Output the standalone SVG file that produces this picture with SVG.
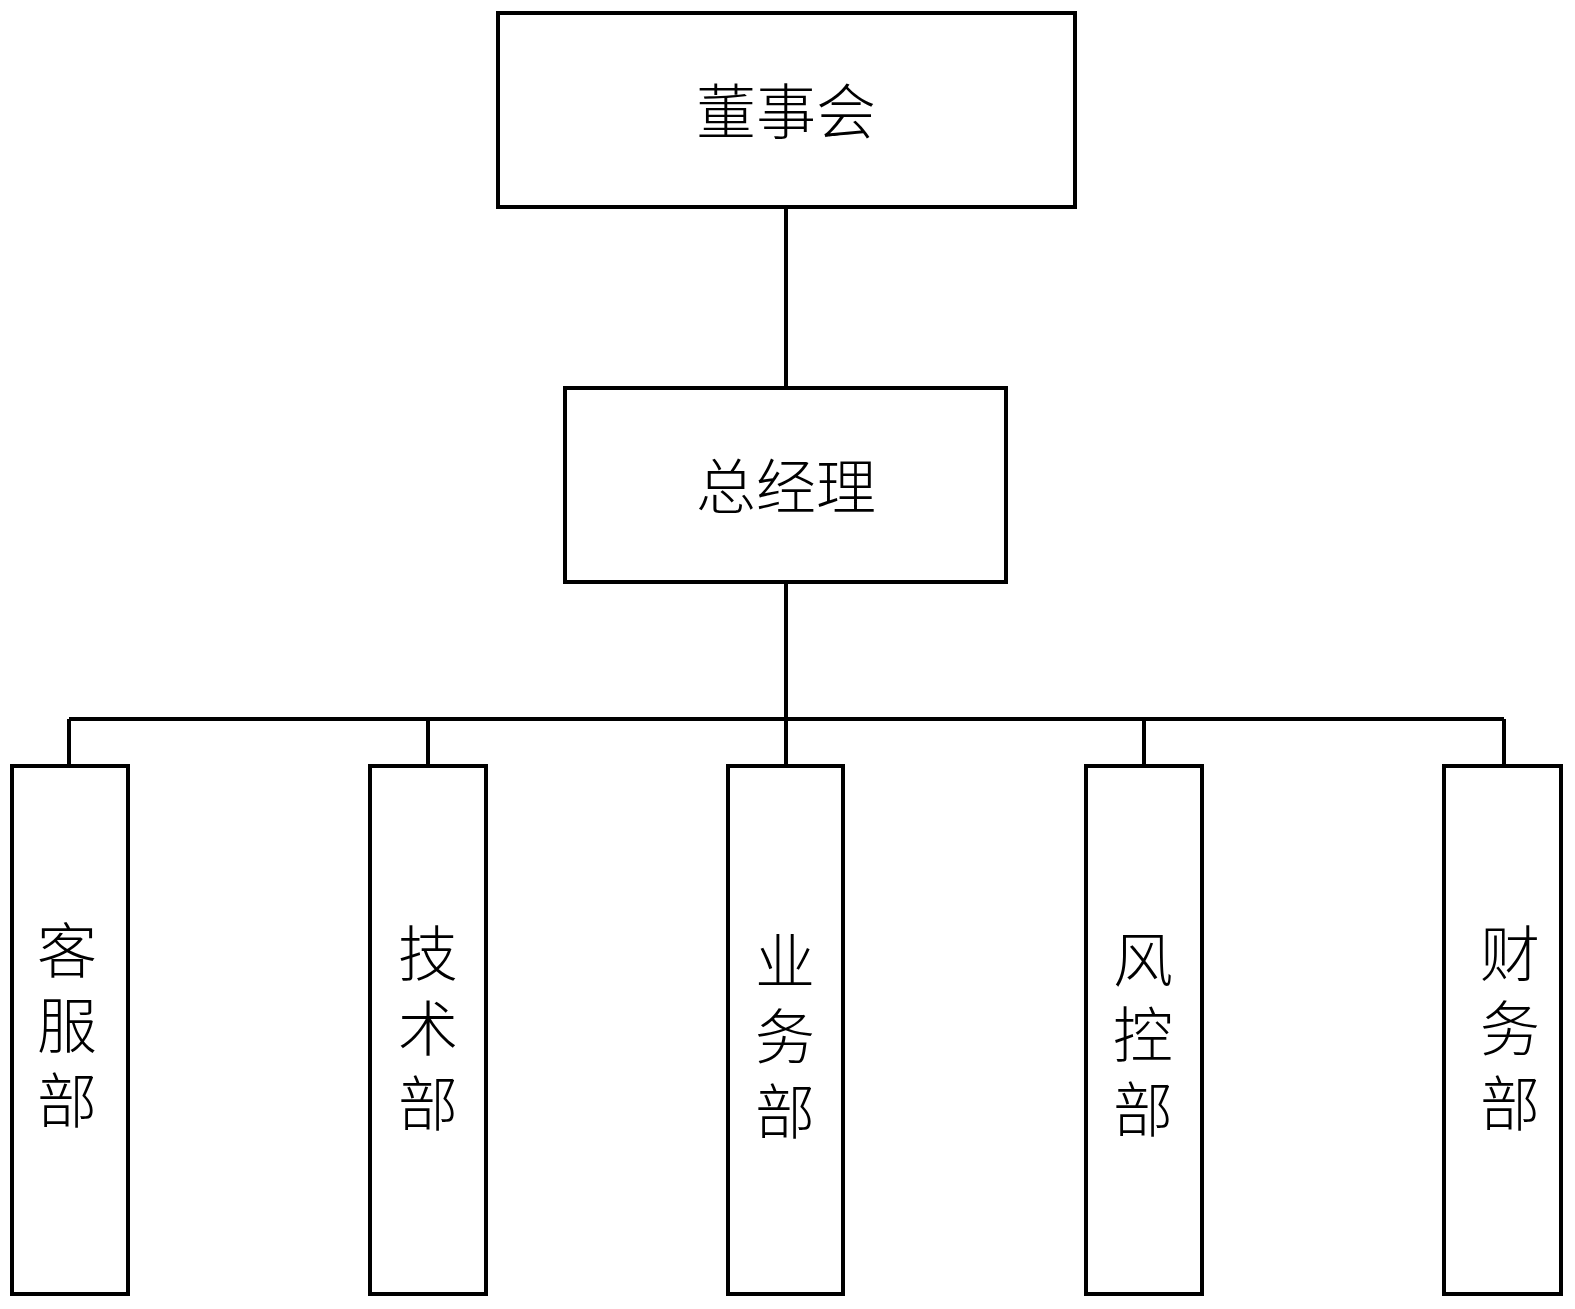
<svg xmlns="http://www.w3.org/2000/svg" width="1575" height="1309" viewBox="0 0 1575 1309">
<style>
.box{fill:#fff;stroke:#000;stroke-width:4}
.ln{fill:none;stroke:#000;stroke-width:4}
.t{font-family:"Noto Sans CJK SC","Liberation Serif",serif;font-size:60px;font-weight:300;fill:#000;text-anchor:middle;dominant-baseline:central}
.v{writing-mode:vertical-rl;letter-spacing:15px}
</style>
<rect width="1575" height="1309" fill="#fff"/>
<g id="connectors">
<path class="ln" d="M786 207V388M786 582V719M69 719H1504M69 719V766M428 719V766M786 719V766M1144 719V766M1504 719V766"/>
</g>
<g id="n1"><rect class="box" x="498" y="13" width="577" height="194"/><text class="t" x="786" y="107">董事会</text></g>
<g id="n2"><rect class="box" x="565" y="388" width="441" height="194"/><text class="t" x="786" y="482">总经理</text></g>
<g id="d1"><rect class="box" x="12" y="766" width="116" height="528"/><text class="t v" x="67" y="1033">客服部</text></g>
<g id="d2"><rect class="box" x="370" y="766" width="116" height="528"/><text class="t v" x="428" y="1036">技术部</text></g>
<g id="d3"><rect class="box" x="728" y="766" width="115" height="528"/><text class="t v" x="785" y="1044">业务部</text></g>
<g id="d4"><rect class="box" x="1086" y="766" width="116" height="528"/><text class="t v" x="1143" y="1042">风控部</text></g>
<g id="d5"><rect class="box" x="1444" y="766" width="117" height="528"/><text class="t v" x="1510" y="1036">财务部</text></g>
</svg>
